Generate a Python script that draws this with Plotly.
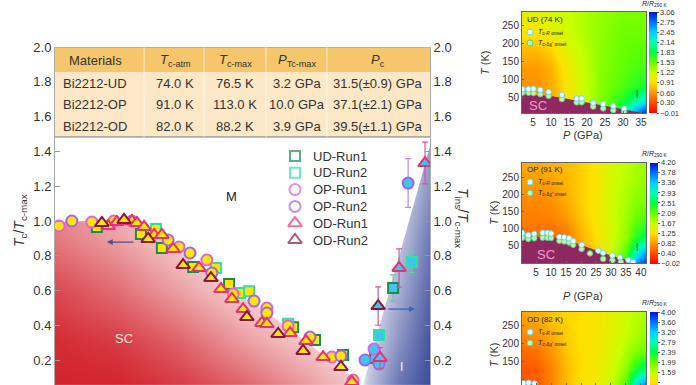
import plotly.graph_objects as go

FONT = "Liberation Sans, Arial, Helvetica, sans-serif"
W, H = 696, 385

# ================= main panel data (x = P/Pc, y = Tc/Tc-max or Tins/Tc-max) =================
ud1_sc_x = [0.134, 0.275, 0.342, 0.442, 0.557, 0.762, 0.832, 0.922]
ud1_sc_y = [0.966, 0.925, 0.845, 0.736, 0.638, 0.390, 0.316, 0.230]
ud2_sc_x = [0.323, 0.515, 0.592, 0.621, 0.746]
ud2_sc_y = [0.954, 0.730, 0.586, 0.596, 0.410]
op1_sc_x = [0.013, 0.118, 0.189, 0.246, 0.397, 0.486, 0.570, 0.678, 0.746, 0.886, 0.954]
op1_sc_y = [0.971, 0.994, 1.000, 1.000, 0.851, 0.776, 0.580, 0.500, 0.397, 0.218, 0.086]
op1_sc_err = [0, 0, 0, 0, 0, 0, 0, 0, 0, 0.03, 0.02]
op2_sc_x = [0.054, 0.362, 0.432, 0.502, 0.637, 0.678, 0.816, 0.915]
op2_sc_y = [1.000, 0.891, 0.816, 0.701, 0.540, 0.471, 0.333, 0.224]
od1_sc_x = [0.170, 0.198, 0.246, 0.262, 0.285, 0.317, 0.342, 0.378, 0.461, 0.531, 0.566,
            0.602, 0.662, 0.678, 0.752, 0.803, 0.858, 0.950]
od1_sc_y = [0.971, 0.994, 1.000, 0.989, 0.966, 0.920, 0.920, 0.839, 0.730, 0.609, 0.552,
            0.494, 0.414, 0.408, 0.356, 0.310, 0.218, 0.075]
od2_sc_x = [0.150, 0.221, 0.298, 0.410, 0.499, 0.614, 0.714, 0.794, 0.915]
od2_sc_y = [0.989, 1.006, 0.897, 0.747, 0.672, 0.448, 0.351, 0.253, 0.161]

ud1_ins_x = [1.024, 1.082]
ud1_ins_y = [0.213, 0.615]
ud1_ins_err = [0.0, 0.075]
ud2_ins_x = [1.037, 1.142]
ud2_ins_y = [0.345, 0.764]
ud2_ins_err = [0.0, 0.06]
op1_ins_x = [1.021]
op1_ins_y = [0.264]
op1_ins_err = [0.0]
op2_ins_x = [0.992, 1.037, 1.130]
op2_ins_y = [0.201, 0.178, 1.218]
op2_ins_err = [0.0, 0.03, 0.14]
od1_ins_x = [1.040, 1.101, 1.184]
od1_ins_y = [0.213, 0.730, 1.333]
od1_ins_err = [0.06, 0.11, 0.12]
od2_ins_x = [1.034]
od2_ins_y = [0.511]
od2_ins_err = [0.11]

# phase boundaries
dome_x = [0.0, 0.144, 0.224, 0.272, 0.336, 0.40, 0.464, 0.528, 0.592, 0.656, 0.72, 0.784,
          0.848, 0.912, 0.955, 0.975]
dome_y = [0.994, 1.0, 1.006, 0.971, 0.902, 0.822, 0.741, 0.661, 0.58, 0.50, 0.42, 0.333,
          0.247, 0.161, 0.098, 0.0]
ins_edge_x = [0.977, 1.2]
ins_edge_y = [0.0, 1.43]
m_top_x = [1.2, 0.0]
m_top_y = [2.0, 2.0]

# background shading (+ red SC, - blue insulator)
shade_x = [0.0, 0.2, 0.4, 0.6, 0.8, 0.95, 1.0, 1.1, 1.2]
shade_y = [0.0, 0.3, 0.6, 0.9, 1.2, 1.5]
shade_z = [
    [1.00, 1.00, 0.92, 0.75, 0.50, 0.30, -0.35, -0.80, -1.00],
    [0.95, 0.88, 0.70, 0.45, 0.25, 0.10, -0.20, -0.60, -0.95],
    [0.82, 0.65, 0.42, 0.20, 0.05, 0.00, -0.10, -0.45, -0.85],
    [0.60, 0.42, 0.20, 0.05, 0.00, 0.00, 0.00, -0.30, -0.75],
    [0.45, 0.30, 0.10, 0.00, 0.00, 0.00, 0.00, -0.15, -0.60],
    [0.35, 0.20, 0.00, 0.00, 0.00, 0.00, 0.00, -0.05, -0.50],
]

main_ticks = [0.2, 0.4, 0.6, 0.8, 1.0, 1.2, 1.4, 1.6, 1.8, 2.0]

# table
table_header = ["Materials", "<i>T</i><sub>c-atm</sub>", "<i>T</i><sub>c-max</sub>",
                "<i>P</i><sub>Tc-max</sub>", "<i>P</i><sub>c</sub>"]
materials = ["Bi2212-UD", "Bi2212-OP", "Bi2212-OD"]
tc_atm = ["74.0 K", "91.0 K", "82.0 K"]
tc_max = ["76.5 K", "113.0 K", "88.2 K"]
p_tcmax = ["3.2 GPa", "10.0 GPa", "3.9 GPa"]
p_c = ["31.5(±0.9) GPa", "37.1(±2.1) GPa", "39.5(±1.1) GPa"]

legend_names = ["UD-Run1", "UD-Run2", "OP-Run1", "OP-Run2", "OD-Run1", "OD-Run2"]

# ================= side panels =================
ud_map_p = [1.9, 6, 10, 14, 18, 24, 30, 33, 36.4]
ud_map_t = [5, 40, 80, 130, 180, 230, 289]
ud_map_z = [
    [0.60, 0.60, 0.70, 0.90, 1.15, 1.45, 1.95, 2.60, 3.00],
    [0.60, 0.60, 0.70, 0.90, 1.15, 1.45, 1.75, 2.05, 2.35],
    [0.60, 0.60, 0.70, 0.92, 1.15, 1.42, 1.60, 1.70, 1.80],
    [0.62, 0.62, 0.72, 0.95, 1.18, 1.42, 1.55, 1.60, 1.65],
    [0.75, 0.75, 0.85, 1.05, 1.22, 1.42, 1.52, 1.55, 1.55],
    [0.95, 0.95, 1.05, 1.15, 1.27, 1.40, 1.50, 1.50, 1.50],
    [1.05, 1.10, 1.15, 1.20, 1.27, 1.38, 1.45, 1.45, 1.45],
]
ud_cb_ticks = [3.06, 2.75, 2.45, 2.14, 1.83, 1.53, 1.22, 0.91, 0.60, 0.30, -0.01]
ud_sc_p = [1.9, 10, 18.6, 27, 33, 36.4]
ud_sc_t = [58, 53, 37, 22, 10, 3]
ud_tcR_p = [2.0, 3.7, 5.1, 7.0, 9.3, 13.0, 17.1, 18.5, 21.7, 24.5, 27.3, 30.3]
ud_tcR_t = [72, 72, 73, 70, 64, 56, 46, 46, 34, 30, 25, 18]
ud_tcX_p = [2.0, 3.7, 5.1, 7.0, 9.3, 13.0, 17.1, 18.5, 21.7, 24.5, 27.3, 30.3]
ud_tcX_t = [62, 62, 61, 58, 53, 44, 35, 35, 23, 18, 13, 10]

op_map_p = [0.3, 5, 10, 15, 20, 25, 30, 35, 38, 41.7]
op_map_t = [0, 40, 80, 130, 180, 230, 292]
op_map_z = [
    [0.60, 0.55, 0.50, 0.60, 0.90, 1.20, 1.70, 2.40, 3.50, 4.10],
    [0.60, 0.55, 0.50, 0.60, 0.90, 1.20, 1.60, 2.10, 2.80, 3.40],
    [0.62, 0.58, 0.55, 0.65, 1.00, 1.25, 1.60, 1.90, 2.30, 2.60],
    [0.70, 0.70, 0.72, 0.85, 1.10, 1.30, 1.60, 1.85, 2.05, 2.20],
    [0.75, 0.75, 0.80, 0.95, 1.15, 1.30, 1.60, 1.80, 1.95, 2.00],
    [0.85, 0.85, 0.90, 1.00, 1.15, 1.30, 1.60, 1.75, 1.85, 1.90],
    [0.95, 0.95, 1.00, 1.05, 1.15, 1.30, 1.55, 1.70, 1.80, 1.85],
]
op_cb_ticks = [4.20, 3.78, 3.36, 2.93, 2.51, 2.09, 1.67, 1.25, 0.82, 0.40, -0.02]
op_sc_p = [0.3, 10, 15, 20, 25, 30, 35, 39, 41.7]
op_sc_t = [76, 76, 68, 52, 38, 22, 10, 0, 0]
op_tcR_p = [0.4, 2.4, 4.4, 7.2, 8.8, 10, 12.8, 14.4, 16, 17.4, 20.2, 25.8, 27.4, 30.5, 33, 35.8, 37.4]
op_tcR_t = [87, 81, 85, 88, 88, 86, 76, 75, 72, 64, 53, 36, 30, 22, 17, 9, 3]
op_tcX_p = [0.4, 2.4, 4.4, 7.2, 8.8, 10, 12.8, 14.4, 16, 17.4, 20.2, 23, 27.4, 30.5, 33.3]
op_tcX_t = [74, 70, 72, 74, 74, 73, 65, 63, 60, 53, 41, 28, 12, 8, 3]

od_map_p = [0.3, 5, 10, 15, 20, 25, 30, 35, 38, 41.7]
od_map_t = [86, 130, 180, 230, 290]
od_map_z = [
    [0.45, 0.50, 0.70, 1.00, 1.20, 1.30, 1.60, 2.10, 3.00, 3.60],
    [0.45, 0.50, 0.70, 1.00, 1.20, 1.30, 1.50, 1.85, 2.30, 2.60],
    [0.55, 0.60, 0.80, 1.05, 1.20, 1.25, 1.45, 1.70, 1.85, 2.00],
    [0.75, 0.80, 0.95, 1.10, 1.20, 1.25, 1.40, 1.60, 1.70, 1.80],
    [0.90, 0.95, 1.05, 1.15, 1.20, 1.25, 1.40, 1.55, 1.65, 1.70],
]
od_cb_ticks = [4.00, 3.60, 3.20, 2.79, 2.39, 1.99, 1.59, 1.19, 0.79, 0.39, -0.01]
od_sc_p = [0.3, 3, 6, 8, 10]
od_sc_t = [88, 89, 86, 80, 70]
od_tcR_p = [0.8, 2.5, 4.5]
od_tcR_t = [91, 92, 90]

panel_cs = [[0.0, '#ff0000'], [0.1, '#ff4a00'], [0.2, '#ff9400'], [0.3, '#ffe000'],
            [0.4, '#c8ff00'], [0.5, '#66ff00'], [0.6, '#00ff3c'], [0.7, '#00ffb4'],
            [0.8, '#00d2ff'], [0.9, '#0070ff'], [1.0, '#0010d8']]

# ================= colours =================
C_UD1, C_UD2 = '#1f8a4c', '#2fe0a6'
C_OP1, C_OP2 = '#e35ee8', '#a066e6'
C_OD1, C_OD2 = '#e8307a', '#8a1640'
F_SC, F_INS = '#ffe600', '#3cc8ec'
E_UD, E_OP, E_OD = '#5fd0a0', '#c888d8', '#d0589a'
MAROON = '#8d2860'
R_FILL, R_LINE = '#effdff', '#6cd6ea'
X_FILL, X_LINE = '#c6f3a6', '#63cc88'

fig = go.Figure()

# background gradient + white metallic region
fig.add_trace(go.Heatmap(x=shade_x, y=shade_y, z=shade_z, zmin=-1, zmax=1, zsmooth='best',
                         colorscale=[[0, '#3a4a9c'], [0.5, '#ffffff'], [1, '#d2202a']],
                         showscale=False, hoverinfo='skip', xaxis='x', yaxis='y'))
fig.add_trace(go.Scatter(x=dome_x + ins_edge_x + m_top_x, y=dome_y + ins_edge_y + m_top_y,
                         fill='toself', fillcolor='white', mode='lines', line=dict(width=0),
                         hoverinfo='skip', showlegend=False, xaxis='x', yaxis='y'))


def pts(x, y, sym, size, border, fill, yaxis='y', err=None, ecol=None):
    kw = {}
    if err is not None:
        kw['error_y'] = dict(type='data', array=err, color=ecol, thickness=1.2, width=3)
    fig.add_trace(go.Scatter(x=x, y=y, mode='markers', xaxis='x', yaxis=yaxis,
                             showlegend=False, hoverinfo='skip',
                             marker=dict(symbol=sym, size=size, color=fill,
                                         line=dict(color=border, width=2)), **kw))


pts(ud1_sc_x, ud1_sc_y, 'square', 10, C_UD1, F_SC)
pts(ud2_sc_x, ud2_sc_y, 'square', 10, C_UD2, F_SC)
pts(op1_sc_x, op1_sc_y, 'circle', 11, C_OP1, F_SC, err=op1_sc_err, ecol=E_OP)
pts(op2_sc_x, op2_sc_y, 'circle', 11, C_OP2, F_SC)
pts(od1_sc_x, od1_sc_y, 'triangle-up', 12, C_OD1, F_SC)
pts(od2_sc_x, od2_sc_y, 'triangle-up', 12, C_OD2, F_SC)

pts(ud1_ins_x, ud1_ins_y, 'square', 10, C_UD1, F_INS, 'y2', ud1_ins_err, E_UD)
pts(ud2_ins_x, ud2_ins_y, 'square', 10, C_UD2, F_INS, 'y2', ud2_ins_err, E_UD)
pts(op1_ins_x, op1_ins_y, 'circle', 11, C_OP1, F_INS, 'y2', op1_ins_err, E_OP)
pts(op2_ins_x, op2_ins_y, 'circle', 11, C_OP2, F_INS, 'y2', op2_ins_err, E_OP)
pts(od1_ins_x, od1_ins_y, 'triangle-up', 12, C_OD1, F_INS, 'y2', od1_ins_err, E_OD)
pts(od2_ins_x, od2_ins_y, 'triangle-up', 12, C_OD2, F_INS, 'y2', od2_ins_err, E_OD)

# ---------------- side panels ----------------
panels = [
    dict(px=ud_map_p, pt=ud_map_t, z=ud_map_z, ticks=ud_cb_ticks, xa='x2', ya='y3',
         scp=ud_sc_p, sct=ud_sc_t, rp=ud_tcR_p, rt=ud_tcR_t, xp=ud_tcX_p, xt=ud_tcX_t,
         cby=(H - 62.5) / H, cbx=649 / W),
    dict(px=op_map_p, pt=op_map_t, z=op_map_z, ticks=op_cb_ticks, xa='x3', ya='y4',
         scp=op_sc_p, sct=op_sc_t, rp=op_tcR_p, rt=op_tcR_t, xp=op_tcX_p, xt=op_tcX_t,
         cby=(H - 213) / H, cbx=650 / W),
    dict(px=od_map_p, pt=od_map_t, z=od_map_z, ticks=od_cb_ticks, xa='x4', ya='y5',
         scp=od_sc_p, sct=od_sc_t, rp=od_tcR_p, rt=od_tcR_t, xp=[], xt=[],
         cby=(H - 362.5) / H, cbx=650 / W),
]
for pn in panels:
    tk = pn['ticks']
    fig.add_trace(go.Heatmap(
        x=pn['px'], y=pn['pt'], z=pn['z'], zsmooth='best', colorscale=panel_cs,
        zmin=min(tk), zmax=max(tk), xaxis=pn['xa'], yaxis=pn['ya'], hoverinfo='skip',
        colorbar=dict(x=pn['cbx'], xanchor='left', y=pn['cby'], yanchor='middle',
                      len=101, lenmode='pixels', thickness=8, thicknessmode='pixels',
                      xpad=0, ypad=0, outlinewidth=0, ticks='outside', ticklen=2,
                      tickcolor='#555', tickvals=tk,
                      ticktext=[('%.2f' % v).replace('-', '−') for v in tk],
                      tickfont=dict(size=7.5, color='#333', family=FONT))))
    fig.add_trace(go.Scatter(x=pn['scp'], y=pn['sct'], mode='lines', fill='tozeroy',
                             fillcolor=MAROON, line=dict(width=0, color=MAROON),
                             xaxis=pn['xa'], yaxis=pn['ya'], hoverinfo='skip', showlegend=False))
    fig.add_trace(go.Scatter(x=pn['xp'], y=pn['xt'], mode='markers', xaxis=pn['xa'], yaxis=pn['ya'],
                             marker=dict(size=5.5, color=X_FILL, line=dict(color=X_LINE, width=1)),
                             hoverinfo='skip', showlegend=False))
    fig.add_trace(go.Scatter(x=pn['rp'], y=pn['rt'], mode='markers', xaxis=pn['xa'], yaxis=pn['ya'],
                             marker=dict(size=5.5, color=R_FILL, line=dict(color=R_LINE, width=1)),
                             hoverinfo='skip', showlegend=False))

# ---------------- overlay pixel axis for legend keys ----------------
leg_x0, leg_y0, leg_dy = 295, 156, 16.8
leg_syms = ['square', 'square', 'circle', 'circle', 'triangle-up', 'triangle-up']
leg_sizes = [10, 10, 11, 11, 12, 12]
leg_cols = [C_UD1, C_UD2, C_OP1, C_OP2, C_OD1, C_OD2]
fig.add_trace(go.Scatter(x=[leg_x0] * 6, y=[leg_y0 + i * leg_dy for i in range(6)],
                         mode='markers', xaxis='x5', yaxis='y6', hoverinfo='skip', showlegend=False,
                         marker=dict(symbol=leg_syms, size=leg_sizes, color='white',
                                     line=dict(color=leg_cols, width=2))))
pan_leg_y = [(32, 43), (182, 193), (332, 343)]
fig.add_trace(go.Scatter(x=[530] * 3, y=[a for a, b in pan_leg_y], mode='markers',
                         xaxis='x5', yaxis='y6', hoverinfo='skip', showlegend=False,
                         marker=dict(size=6, color=R_FILL, line=dict(color=R_LINE, width=1))))
fig.add_trace(go.Scatter(x=[530] * 3, y=[b for a, b in pan_leg_y], mode='markers',
                         xaxis='x5', yaxis='y6', hoverinfo='skip', showlegend=False,
                         marker=dict(size=6, color=X_FILL, line=dict(color=X_LINE, width=1))))

# ---------------- annotations ----------------
ann = []
shapes = []
TXT = '#333333'


def A(text, x, y, xref='x', yref='y', size=13, color=TXT, **kw):
    d = dict(text=text, x=x, y=y, xref=xref, yref=yref, showarrow=False,
             xanchor='center', yanchor='middle',
             font=dict(size=size, color=color, family=FONT))
    d.update(kw)
    ann.append(d)


# table
tab_top, tab_hdr, tab_bot = 2.0, 1.856, 1.483
shapes.append(dict(type='rect', xref='x', yref='y', x0=0, x1=1.2, y0=tab_bot, y1=tab_hdr,
                   fillcolor='#fce7c6', line=dict(width=0), layer='above'))
shapes.append(dict(type='rect', xref='x', yref='y', x0=0, x1=1.2, y0=tab_hdr, y1=tab_top,
                   fillcolor='#f6c66c', line=dict(width=0), layer='above'))
shapes.append(dict(type='line', xref='x', yref='y', x0=0, x1=1.2, y0=tab_bot, y1=tab_bot,
                   line=dict(width=1, color='#777'), layer='above'))
shapes.append(dict(type='line', xref='x', yref='y', x0=0, x1=1.2, y0=tab_top, y1=tab_top,
                   line=dict(width=1, color='#b89a60'), layer='above'))
for xs in [0.285, 0.477, 0.675, 0.87]:
    shapes.append(dict(type='line', xref='x', yref='y', x0=xs, x1=xs, y0=tab_bot, y1=tab_top,
                       line=dict(width=1, color='rgba(255,255,255,0.7)'), layer='above'))
col_x = [0.128, 0.384, 0.576, 0.774, 1.034]
row_y = [1.793, 1.672, 1.546]
for cx, t in zip(col_x, table_header):
    A(t, cx, 1.925, size=13)
for ri, ry in enumerate(row_y):
    for cx, col in zip(col_x, [materials, tc_atm, tc_max, p_tcmax, p_c]):
        A(col[ri], cx, ry, size=13)

# region labels and arrows
A('M', 0.566, 1.138, size=13, color='#222')
A('SC', 0.221, 0.322, size=13, color='#fbe0e0')
A('I', 1.11, 0.161, size=12, color='#f4f4ff')
ann.append(dict(x=0.166, y=0.879, ax=0.256, ay=0.879, xref='x', yref='y', axref='x', ayref='y',
                showarrow=True, arrowhead=2, arrowsize=0.9, arrowwidth=1.3, arrowcolor='#5b4b8a', text=''))
ann.append(dict(x=1.152, y=0.494, ax=1.062, ay=0.494, xref='x', yref='y', axref='x', ayref='y',
                showarrow=True, arrowhead=2, arrowsize=0.9, arrowwidth=1.3, arrowcolor='#4060b0', text=''))

# axis titles of main panel
A('<i>T</i><sub>c</sub>/<i>T</i><sub>c-max</sub>', 20 / W, (H - 221) / H, 'paper', 'paper',
  size=14, textangle=-90)
A('<i>T</i><sub>ins</sub>/<i>T</i><sub>c-max</sub>', 462 / W, (H - 218) / H, 'paper', 'paper',
  size=14, textangle=90)

# legend texts
for i, nm in enumerate(legend_names):
    A(nm, 311, leg_y0 + i * leg_dy, 'x5', 'y6', size=13, xanchor='left')

# side panel texts
pan_names = ['UD (74 K)', 'OP (91 K)', 'OD (82 K)']
pan_top = [19, 169, 319]
for nm, yt, (ya, yb) in zip(pan_names, pan_top, pan_leg_y):
    A(nm, 525, yt, 'x5', 'y6', size=8, xanchor='left', color='#222')
    A('<i>T</i><sub>c-<i>R</i> onset</sub>', 536, ya, 'x5', 'y6', size=7, xanchor='left', color='#222')
    A("<i>T</i><sub>c-Δχ' onset</sub>", 536, yb, 'x5', 'y6', size=7, xanchor='left', color='#222')
for yt in [4, 154, 303]:
    A('<i>R</i>/<i>R</i><sub>290 K</sub>', 655, yt, 'x5', 'y6', size=7, color='#222')
A('<i>T</i> (K)', 485, 63, 'x5', 'y6', size=11, textangle=-90)
A('<i>T</i> (K)', 494, 213, 'x5', 'y6', size=11, textangle=-90)
A('<i>T</i> (K)', 494, 355, 'x5', 'y6', size=11, textangle=-90)
A('<i>P</i> (GPa)', 583, 135, 'x5', 'y6', size=11)
A('<i>P</i> (GPa)', 583, 296, 'x5', 'y6', size=11)
A('SC', 6.4, 27, 'x2', 'y3', size=13, color='#f49ad6')
A('SC', 8.3, 25, 'x3', 'y4', size=13, color='#f49ad6')
A('I', 34, 56, 'x2', 'y3', size=10, color='#222')
A('I', 38.9, 46, 'x3', 'y4', size=10, color='#222')

# ---------------- layout ----------------
ax_common = dict(showgrid=False, zeroline=False, automargin=False)
main_y = dict(range=[(395 - 385) / 174, 2.0], domain=[0, (H - 47) / H], tickvals=main_ticks,
              ticktext=['%.1f' % v for v in main_ticks], ticks='inside', ticklen=5,
              tickcolor='#999', showline=True, linecolor='#aaa', linewidth=1,
              tickfont=dict(size=13, color=TXT, family=FONT), **ax_common)
pan_ax = dict(showline=True, mirror=True, linecolor='#666', linewidth=1, ticks='inside',
              ticklen=2, tickcolor='#666', tickfont=dict(size=10, color=TXT, family=FONT), **ax_common)
pxdom = [522 / W, 646 / W]

fig.update_layout(
    width=W, height=H, margin=dict(l=0, r=0, t=0, b=0, autoexpand=False),
    paper_bgcolor='white', plot_bgcolor='rgba(0,0,0,0)', showlegend=False,
    font=dict(family=FONT, color=TXT),
    xaxis=dict(domain=[55 / W, 430 / W], range=[0, 1.2], visible=False, anchor='y', **ax_common),
    yaxis=dict(anchor='x', side='left', **main_y),
    yaxis2=dict(anchor='x', side='right', overlaying='y', **main_y),
    xaxis2=dict(domain=pxdom, range=[1.9, 36.4], anchor='y3', tickvals=[5, 10, 15, 20, 25, 30, 35], **pan_ax),
    yaxis3=dict(domain=[(H - 113) / H, (H - 12) / H], range=[5, 289], anchor='x2',
                tickvals=[50, 100, 150, 200, 250], **pan_ax),
    xaxis3=dict(domain=pxdom, range=[0.3, 41.7], anchor='y4', tickvals=[5, 10, 15, 20, 25, 30, 35, 40], **pan_ax),
    yaxis4=dict(domain=[(H - 263) / H, (H - 163) / H], range=[0, 292], anchor='x3',
                tickvals=[50, 100, 150, 200, 250], **pan_ax),
    xaxis4=dict(domain=pxdom, range=[0.3, 41.7], anchor='y5', tickvals=[5, 10, 15, 20, 25, 30, 35, 40],
                showticklabels=False, **pan_ax),
    yaxis5=dict(domain=[0, (H - 312) / H], range=[86, 288], anchor='x4',
                tickvals=[100, 150, 200, 250], **pan_ax),
    xaxis5=dict(domain=[0, 1], range=[0, W], visible=False, anchor='y6', fixedrange=True, **ax_common),
    yaxis6=dict(domain=[0, 1], range=[H, 0], visible=False, anchor='x5', fixedrange=True, **ax_common),
    annotations=ann, shapes=shapes,
)

fig.write_html("out.html", config={'displayModeBar': False, 'staticPlot': True},
               post_script="document.body.style.margin='0';document.body.style.overflow='hidden';")
